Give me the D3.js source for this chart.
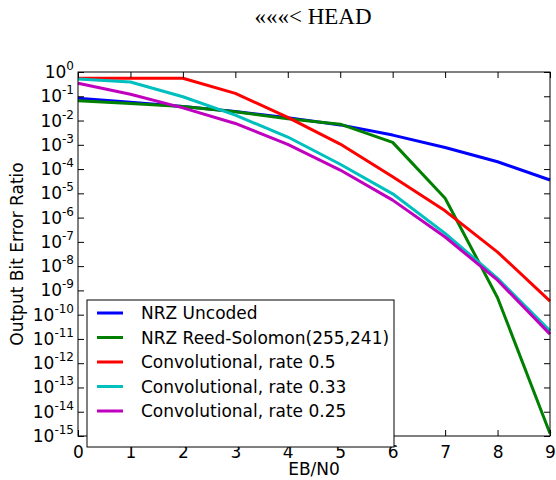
<!DOCTYPE html>
<html>
<head>
<meta charset="utf-8">
<script src="https://cdn.jsdelivr.net/npm/d3@7"></script>
<style>
  body { margin: 0; background: #fff; }
  text { font-family: "DejaVu Sans", sans-serif; }
</style>
</head>
<body>
<div id="chart"></div>
<script>
// Data (log10 of bit error ratio per EB/N0 step)
const ebn0 = [0, 1, 2, 3, 4, 5, 6, 7, 8, 9];
const seriesNames = ["NRZ Uncoded", "NRZ Reed-Solomon(255,241)", "Convolutional, rate 0.5",
  "Convolutional, rate 0.33", "Convolutional, rate 0.25"];
const seriesColors = ["#0000ff", "#008000", "#ff0000", "#00bfbf", "#bf00bf"];
const nrzUncoded = [-1.08, -1.25, -1.42, -1.63, -1.88, -2.18, -2.6, -3.11, -3.7, -4.45];
const nrzRS = [-1.18, -1.3, -1.42, -1.64, -1.93, -2.15, -2.9, -5.2, -9.3, -14.9];
const conv05 = [-0.26, -0.26, -0.26, -0.88, -1.87, -2.97, -4.32, -5.72, -7.42, -9.44];
const conv033 = [-0.29, -0.41, -1.02, -1.78, -2.68, -3.8, -5.02, -6.65, -8.5, -10.67];
const conv025 = [-0.46, -0.92, -1.48, -2.12, -2.98, -4.04, -5.28, -6.8, -8.58, -10.8];
const allSeries = [nrzUncoded, nrzRS, conv05, conv033, conv025];
const yExponents = d3.range(0, -16, -1);

let margin = { top: 72, right: 6, bottom: 44, left: 78 },
  width = 556 - margin.left - margin.right,
  height = 480 - margin.top - margin.bottom;

let svg = d3.select("#chart").append("svg")
  .attr("width", 556).attr("height", 480);

// Title
svg.append("text")
  .attr("x", 313).attr("y", 24)
  .attr("text-anchor", "middle")
  .style("font-family", "'Liberation Serif', 'DejaVu Serif', serif")
  .style("font-size", "23px")
  .text("«««< HEAD");

let g = svg.append("g").attr("transform", "translate(" + margin.left + "," + margin.top + ")");

let x = d3.scaleLinear().domain([0, 9]).range([0, width]);
let y = d3.scaleLog().domain([1e-15, 1]).range([height, 0]);

// Lines
let line = d3.line()
  .x((d, i) => x(ebn0[i]))
  .y(d => y(Math.pow(10, d)));

g.append("g")
  .selectAll("path")
  .data(allSeries)
  .enter().append("path")
  .attr("d", line)
  .attr("fill", "none")
  .attr("stroke", (d, i) => seriesColors[i])
  .attr("stroke-width", 3)
  .attr("stroke-linejoin", "round");

// Axes: ticks inward, on all four sides
let xAxis = g.append("g").attr("transform", "translate(0," + height + ")")
  .call(d3.axisBottom(x).tickValues(ebn0).tickFormat(d3.format("d")).tickSizeInner(-6).tickSizeOuter(0).tickPadding(10));
xAxis.selectAll("text").style("font-size", "17px").attr("fill", "#000");

g.append("g")
  .call(d3.axisTop(x).tickValues(ebn0).tickFormat("").tickSizeInner(-6).tickSizeOuter(0));

g.append("g")
  .call(d3.axisLeft(y).tickValues(yExponents.map(e => Math.pow(10, e))).tickFormat("").tickSizeInner(-6).tickSizeOuter(0));

g.append("g").attr("transform", "translate(" + width + ",0)")
  .call(d3.axisRight(y).tickValues(yExponents.map(e => Math.pow(10, e))).tickFormat("").tickSizeInner(-6).tickSizeOuter(0));

g.selectAll(".domain").attr("stroke", "none");
g.selectAll(".tick line").attr("stroke", "#000");

// Y tick labels 10^n
let yLabels = g.append("g").selectAll("text")
  .data(yExponents).enter().append("text")
  .attr("x", -4)
  .attr("y", d => y(Math.pow(10, d)) + 6)
  .attr("text-anchor", "end")
  .style("font-size", "17px");
yLabels.append("tspan").text("10");
yLabels.append("tspan")
  .attr("dy", -8)
  .style("font-size", "12px")
  .text(d => d);

// Frame
g.append("rect")
  .attr("width", width).attr("height", height)
  .attr("fill", "none").attr("stroke", "#000").attr("stroke-width", 1);

// Axis labels
svg.append("text")
  .attr("x", margin.left + width / 2).attr("y", 475)
  .attr("text-anchor", "middle")
  .style("font-size", "17px")
  .text("EB/N0");

svg.append("text")
  .attr("transform", "translate(23," + (margin.top + height / 2) + ") rotate(-90)")
  .attr("text-anchor", "middle")
  .style("font-size", "17px")
  .text("Output Bit Error Ratio");

// Legend
let legend = g.append("g").attr("transform", "translate(9,228)");
legend.append("rect")
  .attr("width", 307).attr("height", 147)
  .attr("fill", "#fff").attr("stroke", "#000").attr("stroke-width", 1);

let items = legend.selectAll("g.item")
  .data(seriesNames).enter().append("g")
  .attr("transform", (d, i) => "translate(0," + (13 + i * 24.5) + ")");
items.append("line")
  .attr("x1", 10).attr("x2", 36)
  .attr("stroke", (d, i) => seriesColors[i])
  .attr("stroke-width", 3);
items.append("text")
  .attr("x", 54).attr("y", 6)
  .style("font-size", "17px")
  .text(d => d);
</script>
</body>
</html>
